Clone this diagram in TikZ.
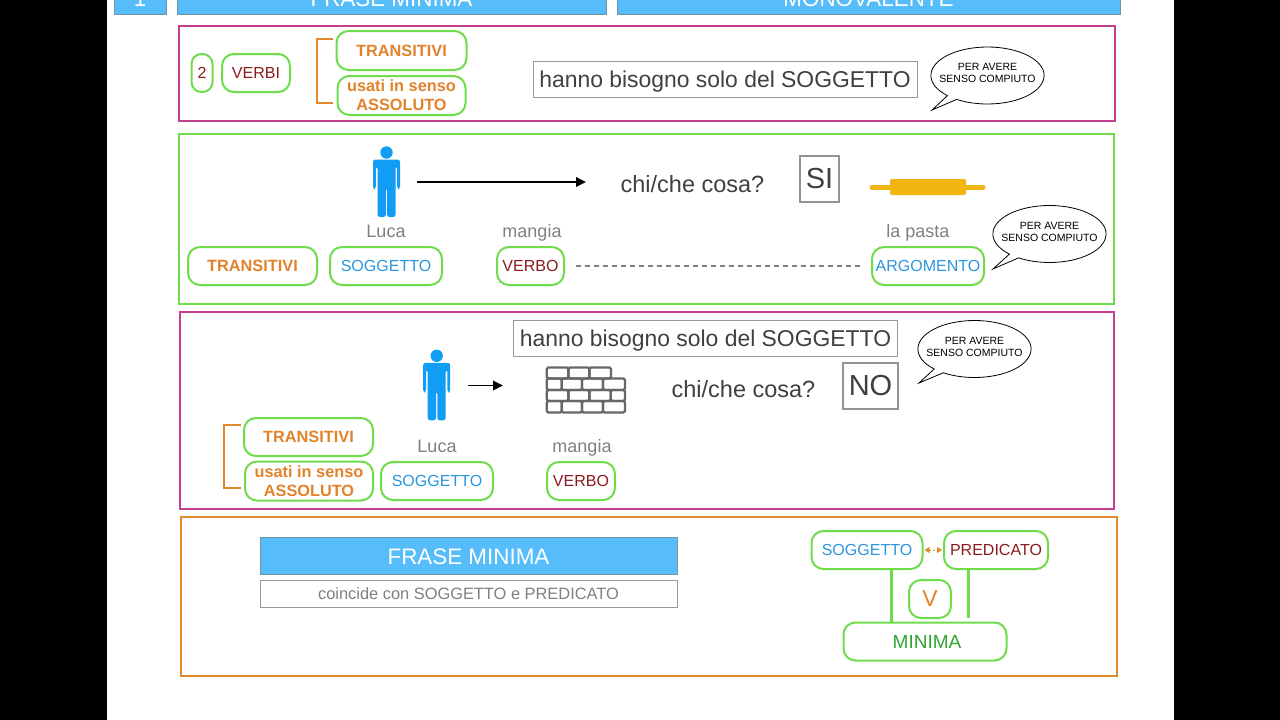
\documentclass[tikz,border=0pt]{standalone}
\usepackage{fontspec}
\setmainfont{Liberation Sans}
\usepackage{xcolor}
\usetikzlibrary{positioning,arrows.meta,calc,shapes.callouts}
\definecolor{headblue}{HTML}{57BDFA}
\definecolor{pillgreen}{HTML}{6FDC4C}
\definecolor{framepink}{HTML}{C43F8E}
\definecolor{frameorange}{HTML}{E08A2C}
\definecolor{txtorange}{HTML}{E2832B}
\definecolor{txtblue}{HTML}{2B96DE}
\definecolor{txtred}{HTML}{8A1A1E}
\definecolor{txtgreen}{HTML}{2FA62F}
\definecolor{personblue}{HTML}{129DF5}
\definecolor{pinyellow}{HTML}{F0B60F}
\definecolor{wallgray}{HTML}{676767}
\newcommand{\fsz}[2]{\fontsize{#1}{#2}\selectfont}
\newcommand{\bubtext}{\raisebox{-1.5pt}[12pt][12pt]{\begin{tabular}{@{}c@{}}PER AVERE\\SENSO COMPIUTO\end{tabular}}}
\tikzset{
   header/.style={draw=gray!70!headblue,fill=headblue,text=white,inner sep=0pt},
   headtxt/.style={text=white,anchor=base,font=\fsz{22.4}{24}},
   panel/.style={line width=2pt,inner sep=0pt},
   pill/.style={draw=pillgreen,line width=2pt,fill=white,rounded corners=12pt,
      inner sep=0pt,align=center,font=\fsz{16}{19}},
   pill size/.style 2 args={minimum width=#1,minimum height=#2},
   boldorange/.style={text=txtorange,font=\fsz{16.3}{19}\bfseries},
   textbox/.style={draw=gray!80,line width=1pt,inner sep=0pt,text=black!75,text height=19pt,text depth=3pt,
      font=\fsz{22.9}{26}},
   answer/.style={draw=gray!85,line width=2.5pt,inner sep=0pt,text=black!75,font=\fsz{29}{31}},
   word/.style={text=gray,inner sep=0pt,anchor=base,font=\fsz{18}{20}},
   question/.style={text=black!75,inner sep=0pt,font=\fsz{23.5}{25}},
   bubble/.style={ellipse callout,draw=black,fill=white,line width=.8pt,inner ysep=0pt,inner xsep=-8pt,
      minimum width=113,minimum height=57,callout pointer arc=12,
      font=\fsz{10.5}{12}},
   bracket/.style={draw=frameorange,line width=2pt},
   go/.style={-{Triangle[length=10pt,width=9.5pt]},line width=1.8pt},
   person/.pic={
      \fill[personblue] (0,-29.5) circle (6.2);
      \fill[personblue,rounded corners=2.5pt] (-13.5,-22.5) -- (13.5,-22.5) -- (13.5,7)
         -- (10.7,7) -- (10.7,-15.5) -- (9,-15.5) -- (9,35) -- (.6,35) -- (.6,6) -- (-.6,6)
         -- (-.6,35) -- (-9,35) -- (-9,-15.5) -- (-10.7,-15.5) -- (-10.7,7) -- (-13.5,7) -- cycle;
   },
   brick/.style={draw=wallgray,line width=2.4pt,rounded corners=1.5pt}
}
\begin{document}
\begin{tikzpicture}[x=1pt,y=-1pt]
   \useasboundingbox (0,0) rectangle (1280,720);
   \clip (0,0) rectangle (1280,720);
   \fill[white] (0,0) rectangle (1280,720);
   % black side bars
   \fill[black] (0,0) rectangle (107,720);
   \fill[black] (1174,0) rectangle (1280,720);

   % header strip
   \node[header,minimum width=52,minimum height=40,anchor=south west] (headnum) at (114,14) {};
   \node[header,minimum width=429,minimum height=40,anchor=south west] (headfrase) at (177,14) {};
   \node[header,minimum width=503,minimum height=40,anchor=south west] (headmono) at (617,14) {};
   \node[headtxt] (numtxt) at (140,6) {1};
   \node[headtxt] (frasetxt) at (391.5,6) {FRASE MINIMA};
   \node[headtxt] (monotxt) at (868.5,6) {MONOVALENTE};

   % panels
   \draw[panel,framepink] (179,26) rectangle (1115,121);
   \draw[panel,pillgreen] (179,134) rectangle (1114,304);
   \draw[panel,framepink] (180,312) rectangle (1114,509);
   \draw[panel,frameorange] (181,517) rectangle (1117,676);

   % first panel
   \node[pill,pill size={21}{38},rounded corners=10pt,text=txtred] (due) at (202,73) {2};
   \node[pill,pill size={68}{38},text=txtred] (verbi) at (256,73) {VERBI};
   \node[pill,pill size={130}{39},boldorange] (transA) at (401.5,50.5) {TRANSITIVI};
   \node[pill,pill size={128}{39},boldorange] (usatiA) at (401.5,95.5) {usati in senso\\ASSOLUTO};
   \coordinate (brA) at (317,70);
   \draw[bracket] (333,39) -| (brA) |- (333,103);
   \node[textbox,minimum width=384,minimum height=36] (bisognoA) at (725,79) {hanno bisogno solo del SOGGETTO};
   \node[bubble,callout absolute pointer={(932,110)}] (bubA) at (987.5,75.5) {\bubtext};

   % second panel
   \pic at (386.5,182) {person};
   \coordinate (arrA) at (417,182);
   \coordinate (arrB) at (586,182);
   \draw[go] (arrA) -- (arrB);
   \node[question] (chiA) at (692.5,184) {chi/che cosa?};
   \node[answer,minimum width=39,minimum height=46] (si) at (819.5,179) {SI};
   % rolling pin
   \draw[pinyellow,line width=5pt,line cap=round] (872,187) -- (983,187);
   \fill[pinyellow,rounded corners=2pt] (890,179) rectangle (966,195);
   \node[word] (lucaA) at (386,237) {Luca};
   \node[word] (mangiaA) at (532,237) {mangia};
   \node[word] (pastaA) at (918,237) {la pasta};
   \node[pill,pill size={129}{38},boldorange] (transB) at (252.5,266) {TRANSITIVI};
   \node[pill,pill size={112}{38},text=txtblue] (soggA) at (386,266) {SOGGETTO};
   \node[pill,pill size={67}{38},text=txtred] (verboA) at (530.5,266) {VERBO};
   \node[pill,pill size={112}{38},text=txtblue] (argo) at (928,266) {ARGOMENTO};
   \draw[gray,dash pattern=on 5pt off 4pt,line width=1.2pt,shorten <=11pt,shorten >=11pt] (verboA) -- (argo);
   \node[bubble,callout absolute pointer={(993,269)}] (bubB) at (1049.5,234) {\bubtext};

   % third panel
   \node[textbox,minimum width=384,minimum height=36] (bisognoB) at (705.5,338) {hanno bisogno solo del SOGGETTO};
   \node[bubble,callout absolute pointer={(919,383)}] (bubC) at (974.5,349) {\bubtext};
   \pic at (436.7,385.3) {person};
   \coordinate (arrC) at (468,385.5);
   \coordinate (arrD) at (503,385.5);
   \draw[go] (arrC) -- (arrD);
   % wall of bricks
   \foreach \xa/\xb in {546.7/568.3,568.3/589.3,589.3/611}
      \draw[brick] (\xa,367.5) rectangle (\xb,378.5);
   \foreach \xa/\xb in {546.7/561.7,561.7/582,582/603,603/625}{
      \draw[brick] (\xa,378.5) rectangle (\xb,390);
      \draw[brick] (\xa,401) rectangle (\xb,412.5);
   }
   \foreach \xa/\xb in {546.7/568.3,568.3/589.3,589.3/610.7,610.7/625}
      \draw[brick] (\xa,390) rectangle (\xb,401);
   \node[question] (chiB) at (743.5,389) {chi/che cosa?};
   \node[answer,minimum width=55,minimum height=46] (no) at (870.5,386) {NO};
   \node[word] (lucaB) at (437,452) {Luca};
   \node[word] (mangiaB) at (582,452) {mangia};
   \node[pill,pill size={129}{38},boldorange] (transC) at (308.5,437) {TRANSITIVI};
   \node[pill,pill size={128}{39},boldorange] (usatiC) at (309,481) {usati in senso\\ASSOLUTO};
   \node[pill,pill size={112}{38},text=txtblue] (soggB) at (437,481) {SOGGETTO};
   \node[pill,pill size={68}{38},text=txtred] (verboB) at (581,481) {VERBO};
   \coordinate (brB) at (224,456);
   \draw[bracket] (241,425) -| (brB) |- (241,488);

   % fourth panel
   \node[draw=gray!70!headblue,fill=headblue,text=white,inner sep=0pt,minimum width=417,minimum height=37,
      text height=17pt,text depth=0pt,font=\fsz{22.4}{24}] (frase) at (468.5,555.5) {FRASE MINIMA};
   \node[draw=gray!80,line width=1pt,inner sep=0pt,minimum width=417,minimum height=27,text=gray,
      font=\fsz{16.4}{18}] (coincide) at (468.5,593.5) {coincide con SOGGETTO e PREDICATO};
   \node[pill,pill size={111}{38},text=txtblue] (sogg) at (867,550) {SOGGETTO};
   \node[pill,pill size={104}{38},text=txtred] (pred) at (996,550) {PREDICATO};
   \node[pill,pill size={42}{38},text=txtorange,font=\fsz{23}{25}] (vee) at (930,599) {V};
   \node[pill,pill size={163}{38},text=txtgreen,font=\fsz{19}{21}] (mini) at (925,641.5) {\hspace{4pt}MINIMA};
   \draw[{Triangle[length=5pt,width=6pt]}-{Triangle[length=5pt,width=6pt]},frameorange,dash pattern=on 2pt off 2pt,
      line width=1pt,shorten <=1pt,shorten >=1pt] (sogg) -- (pred);
   \coordinate (stemA) at (891.5,600);
   \coordinate (stemB) at (968.5,617.5);
   \draw[pillgreen,line width=3pt] (sogg.south -| stemA) -- (mini.north -| stemA);
   \draw[pillgreen,line width=3pt] (pred.south -| stemB) -- (stemB);
\end{tikzpicture}
\end{document}
